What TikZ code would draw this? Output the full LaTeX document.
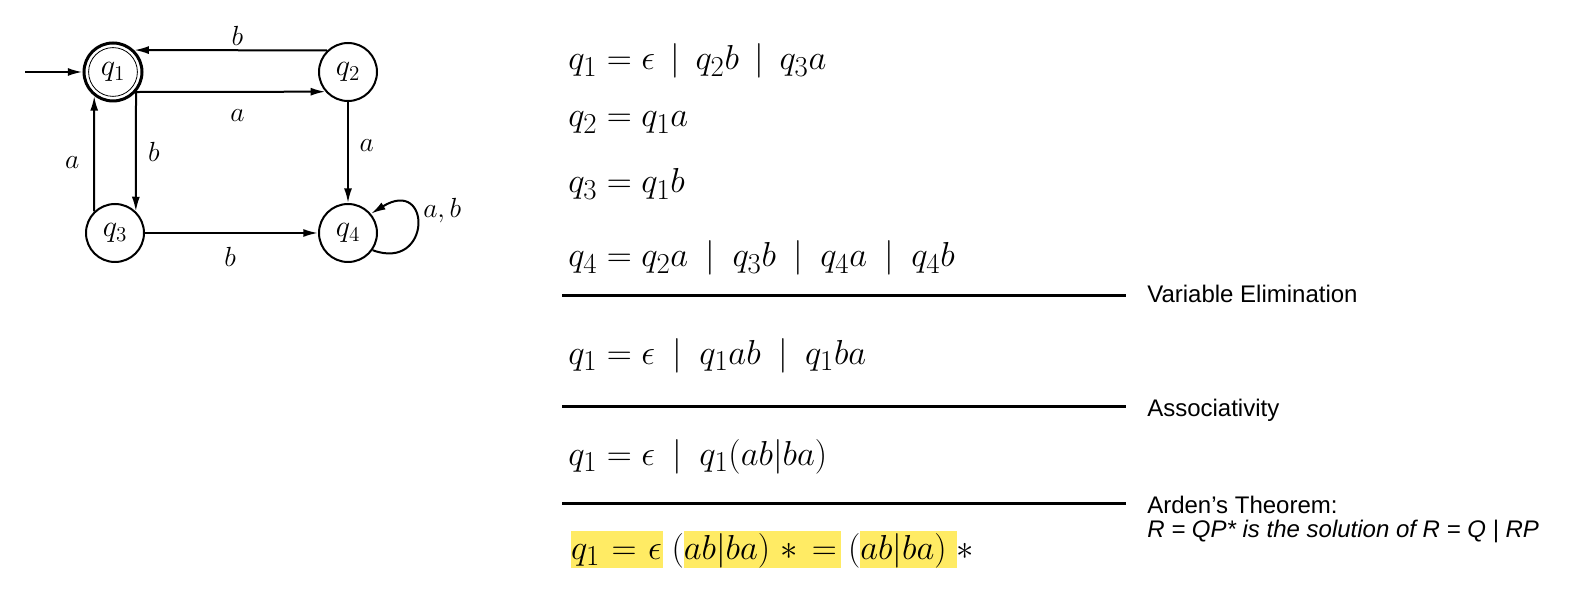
\documentclass[tikz,border=0pt]{standalone}
\usepackage{fontspec}
\setmainfont{Liberation Sans}
\usetikzlibrary{arrows.meta}
\definecolor{hly}{RGB}{255,235,100}
\setlength{\fboxsep}{0pt}
\newcommand\hlbox[1]{\colorbox{hly}{\rule[-0.27em]{0pt}{1.08em}$#1$}}
\newcommand\bor{\mskip8mu|\mskip8mu}
\newcommand\borw{\mskip9mu|\mskip9mu}
\newcommand\eqs[1]{\scalebox{1.045}{#1}}
\newcommand\qs[1]{\scalebox{1.1}{$#1$}}
\begin{document}
\begin{tikzpicture}[x=0.75pt,y=-0.75pt,
  state/.style={circle, draw, line width=1.5pt, minimum size=43.5pt, inner sep=0pt, font=\fontsize{20.74}{25}\selectfont},
  edge/.style={line width=1.5pt, -{Latex[length=11pt,width=6pt]}},
  lbl/.style={font=\fontsize{20.74}{24}\selectfont, inner sep=0pt},
  eq/.style={anchor=base west, inner sep=0pt, font=\fontsize{24.88}{30}\selectfont},
  rulel/.style={line width=2.25pt},
  note/.style={anchor=base west, inner sep=0pt, font=\fontsize{18}{21}\selectfont}]
\useasboundingbox (0,0) rectangle (1573,591);
% automaton
\node[state, line width=2.25pt] (q1) at (113,72) {\qs{q_1}};
\draw[line width=0.6pt] (q1.center) circle (18.3pt);
\node[state] (q2) at (348,72) {\qs{q_2}};
\node[state] (q3) at (115,233) {\qs{q_3}};
\node[state] (q4) at (348,233) {\qs{q_4}};
\coordinate (start) at (25,72);
\draw[edge] (start) -- (q1.west);
\draw[edge] (q2.134) -- node[lbl, midway, yshift=11pt, xshift=5pt] {$b$} (q1.46);
\draw[edge] (q1.-41) -- node[lbl, midway, yshift=-17.5pt, xshift=5pt] {$a$} (q2.-139);
\draw[edge] (q1.-41) -- node[lbl, midway, xshift=13.5pt] {$b$} (q3.46);
\draw[edge] (q3.134) -- node[lbl, pos=0.42, xshift=-16.5pt] {$a$} (q1.-128);
\draw[edge] (q2.south) -- node[lbl, pos=0.43, xshift=14pt] {$a$} (q4.north);
\draw[edge] (q3.east) -- node[lbl, midway, yshift=-18pt, xshift=-1pt] {$b$} (q4.west);
\draw[edge] (q4.-35) .. controls (432,272) and (432,176) .. (q4.40);
\node[lbl, anchor=west] (lab) at (423,211) {$a,b$};
% equations
\node[eq] (e1) at (568,70) {\eqs{$q_1 = \epsilon \bor q_2b \bor q_3a$}};
\node[eq] (e2) at (568,127) {\eqs{$q_2 = q_1a$}};
\node[eq] (e3) at (568,193) {\eqs{$q_3 = q_1b$}};
\node[eq] (e4) at (568,267) {\eqs{$q_4 = q_2a \borw q_3b \borw q_4a \borw q_4b$}};
\draw[rulel] (562,296) -- (1126,296);
\node[note] (n1) at (1147,303) {Variable Elimination};
\node[eq] (e5) at (568,364) {\eqs{$q_1 = \epsilon \borw q_1ab \borw q_1ba$}};
\draw[rulel] (562,406) -- (1126,406);
\node[note] (n2) at (1147,416) {Associativity};
\node[eq] (e6) at (568,465) {\eqs{$q_1 = \epsilon \borw q_1(ab|ba)$}};
\draw[rulel] (562,503) -- (1126,503);
\node[note] (n3) at (1147,513) {Arden’s Theorem:};
\node[note, font=\fontsize{18}{21}\selectfont\itshape] (n4) at (1147,537) {R = QP* is the solution of R = Q | RP};
\node[eq] (e7) at (568,559) {\eqs{\hspace{2pt}\hlbox{q_1 \mskip1mu=\mskip1mu \epsilon\hspace{1pt}}\hspace{6pt}$($\hlbox{ab|ba)\hspace{7.5pt}{\ast}\hspace{10pt}{=}\hspace{3pt}}\hspace{5pt}$($\hlbox{ab|ba)\hspace{7pt}}$\ast$}};
\end{tikzpicture}
\end{document}
